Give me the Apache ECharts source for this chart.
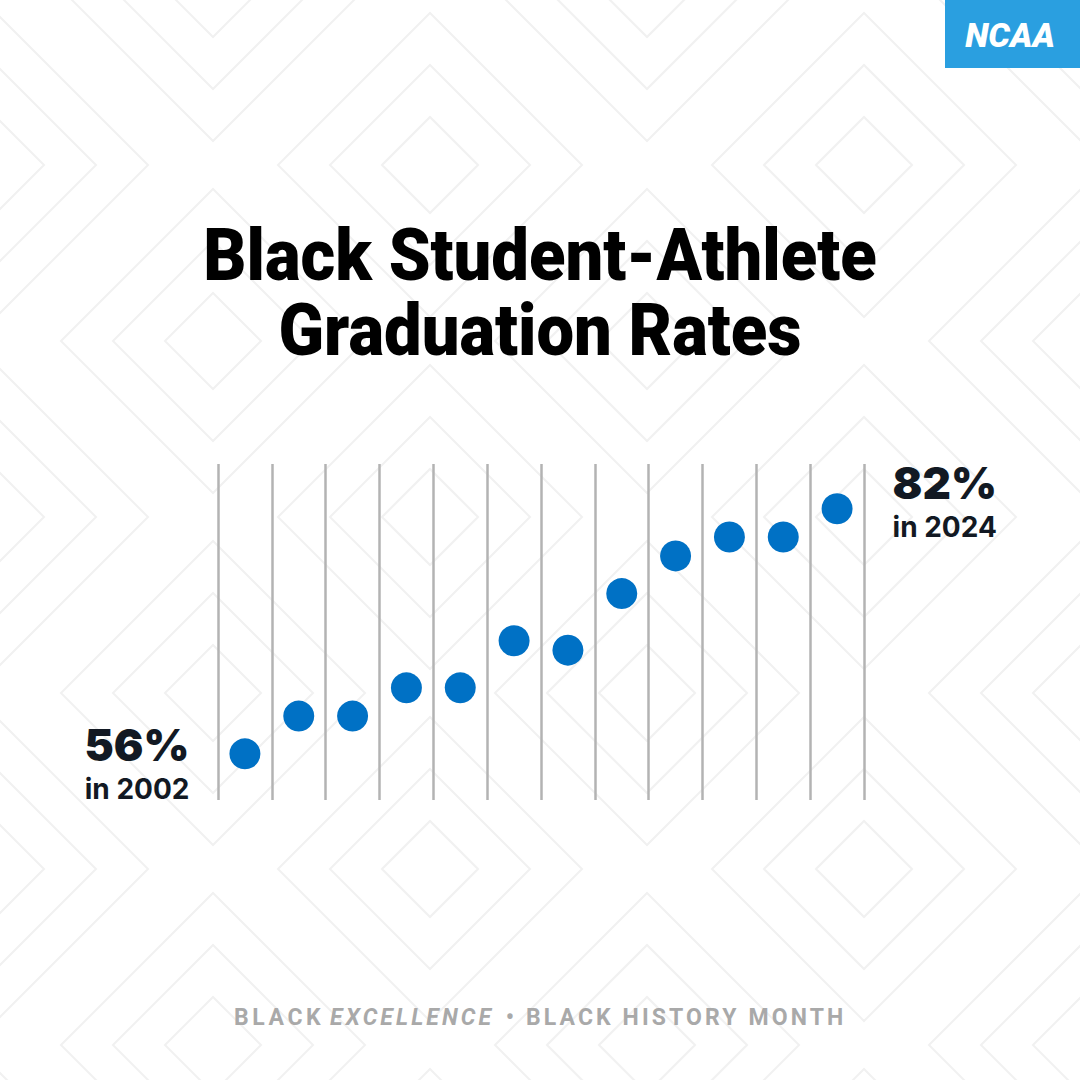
<!DOCTYPE html>
<html><head><meta charset="utf-8">
<script src="https://cdn.jsdelivr.net/npm/echarts@6/dist/echarts.min.js"></script>
<style>
html,body{margin:0;padding:0;background:#ffffff}
#c{width:1080px;height:1080px}
</style>
</head><body><div id="c"></div>
<script>
// ---- data ----
const years = ['2002','2004','2006','2008','2010','2012','2014','2016','2018','2020','2022','2024'];
const rates = [56, 60, 60, 63, 63, 68, 67, 73, 77, 79, 79, 82];
const titleLines = ['Black Student-Athlete', 'Graduation Rates'];
const footerParts = ['BLACK ', 'EXCELLENCE', ' \u2022 BLACK HISTORY MONTH'];
const brand = 'NCAA';

// ---- background pattern (decoration) ----
const pattern = [];
for (let m = -2; m <= 7; m++) {
  for (let k = -2; k <= 7; k++) {
    if ((k + m) % 2 !== 0) continue;
    const cx = -4 + 217 * k, cy = 165 + 176 * m;
    [48, 100, 152].forEach(r => {
      pattern.push({
        type: 'polygon', silent: true, z: -100,
        shape: { points: [[cx - r, cy], [cx, cy - r], [cx + r, cy], [cx, cy + r]] },
        style: { fill: 'none', stroke: '#f1f1f1', lineWidth: 2 }
      });
    });
  }
}

const last = rates.length - 1;
const labelRich = {
  v: { fontFamily: 'Inter', fontWeight: 900, fontSize: 44, color: '#121923', lineHeight: 44 },
  y: { fontFamily: 'Inter', fontWeight: 700, fontSize: 28, color: '#121923', lineHeight: 44 }
};
const seriesData = rates.map((v, i) => {
  const item = { value: v };
  if (i === 0) {
    item.label = { show: true, position: 'left', distance: 40, align: 'right', offset: [0, 13] };
  } else if (i === last) {
    item.label = { show: true, position: 'right', distance: 40, align: 'left', offset: [0, -4] };
  }
  return item;
});

const chart = echarts.init(document.getElementById('c'), null, { renderer: 'svg' });
chart.setOption({
  animation: false,
  backgroundColor: '#ffffff',
  grid: { left: 218, top: 464, width: 646, height: 336 },
  xAxis: {
    type: 'category', data: years, boundaryGap: true,
    axisLine: { show: false }, axisTick: { show: false }, axisLabel: { show: false },
    splitLine: { show: true, interval: 0, lineStyle: { color: '#b3b3b3', width: 2.5 } }
  },
  yAxis: { type: 'value', min: 51.1, max: 86.75, show: false },
  series: [{
    type: 'scatter', data: seriesData, symbolSize: 31,
    itemStyle: { color: '#0071c5', opacity: 1 },
    label: {
      show: false,
      formatter: p => '{v|' + p.value + '%}\n{y|in ' + years[p.dataIndex] + '}',
      rich: labelRich
    },
    z: 5
  }],
  graphic: pattern.concat([
    { type: 'rect', z: 10, shape: { x: 945, y: 0, width: 135, height: 68 }, style: { fill: '#2a9fe0' } },
    { type: 'text', z: 11, x: 1010, y: 35,
      style: { text: brand, fill: '#ffffff', fontFamily: 'Roboto', fontWeight: 900, fontStyle: 'italic', fontSize: 34, align: 'center', verticalAlign: 'middle' } },
    { type: 'text', z: 11, x: 540, y: 256, scaleX: 0.93,
      style: { text: titleLines[0], fill: '#000000', fontFamily: 'Roboto', fontWeight: 900, fontSize: 72, align: 'center', verticalAlign: 'middle' } },
    { type: 'text', z: 11, x: 540, y: 331, scaleX: 0.93,
      style: { text: titleLines[1], fill: '#000000', fontFamily: 'Roboto', fontWeight: 900, fontSize: 72, align: 'center', verticalAlign: 'middle' } },
    { type: 'text', z: 11, x: 234, y: 1017,
      style: { text: footerParts[0], fill: '#a9a9a9', fontFamily: 'Roboto', fontWeight: 700, fontSize: 23, align: 'left', verticalAlign: 'middle' } },
    { type: 'text', z: 11, x: 330, y: 1017,
      style: { text: footerParts[1], fill: '#a9a9a9', fontFamily: 'Roboto', fontWeight: 700, fontStyle: 'italic', fontSize: 23, align: 'left', verticalAlign: 'middle' } },
    { type: 'text', z: 11, x: 497, y: 1017,
      style: { text: footerParts[2], fill: '#a9a9a9', fontFamily: 'Roboto', fontWeight: 700, fontSize: 23, align: 'left', verticalAlign: 'middle' } }
  ])
});

function spaceFooter() {
  document.querySelectorAll('#c text').forEach(t => {
    const s = t.textContent;
    if (footerParts.some(p => p.trim() === s.trim())) {
      t.style.letterSpacing = s.indexOf('HISTORY') >= 0 ? '3.1px' : (s.indexOf('EXCELLENCE') >= 0 ? '3.1px' : '3.6px');
      t.style.whiteSpace = 'pre';
    }
  });
}
spaceFooter();
chart.on('finished', spaceFooter);
requestAnimationFrame(spaceFooter);
</script>
</body></html>
